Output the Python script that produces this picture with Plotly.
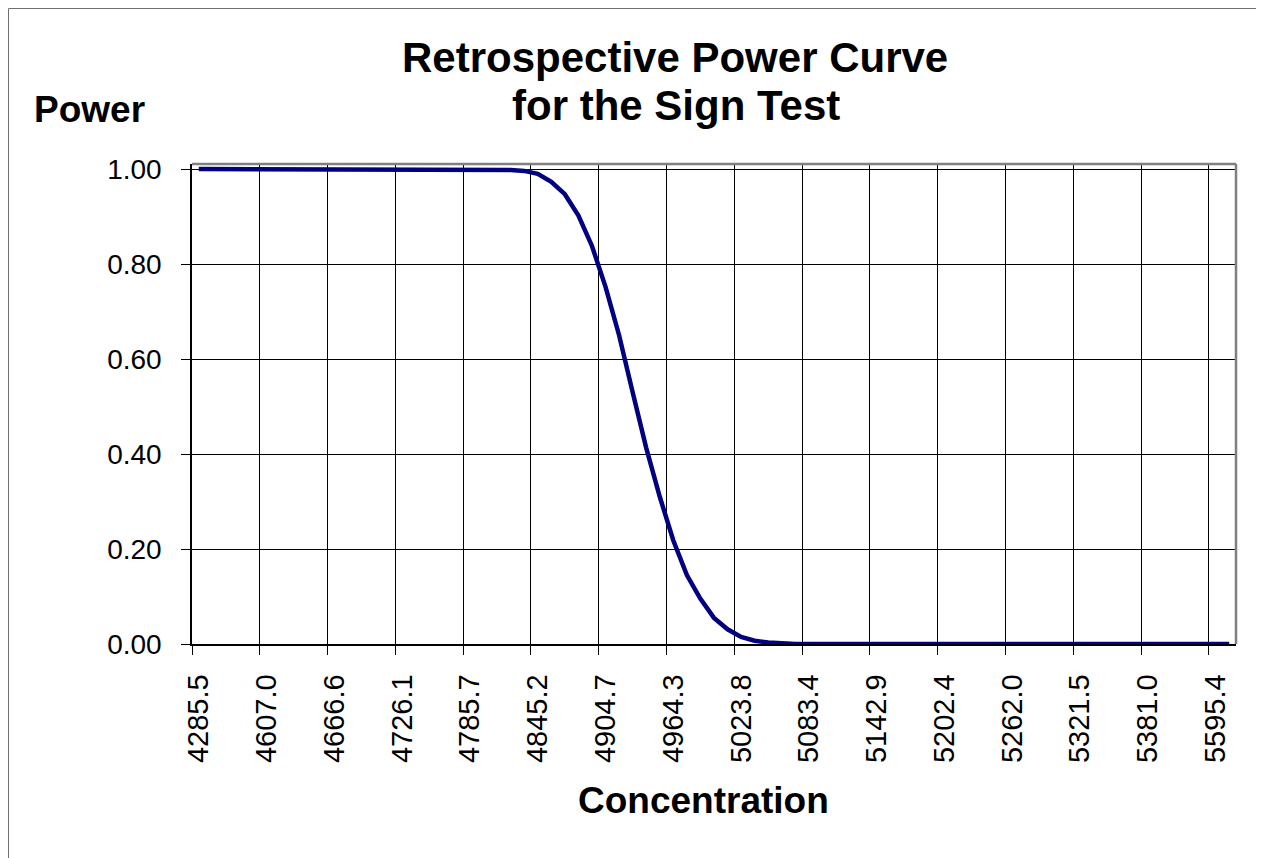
import plotly.graph_objects as go

# ---- data ----
tick_labels = ["4285.5", "4607.0", "4666.6", "4726.1", "4785.7", "4845.2",
               "4904.7", "4964.3", "5023.8", "5083.4", "5142.9", "5202.4",
               "5262.0", "5321.5", "5381.0", "5595.4"]
label_interval = 5  # one label every 5 categories

power = [
    1.000, 1.000, 1.000, 1.000, 1.000, 1.000, 1.000, 1.000, 1.000, 1.000,
    1.000, 1.000, 1.000, 1.000, 1.000, 1.000, 1.000, 1.000, 1.000, 1.000,
    1.000, 1.000, 0.999, 0.998, 0.996, 0.990, 0.973, 0.947, 0.902, 0.838,
    0.752, 0.650, 0.530, 0.413, 0.310, 0.218, 0.145, 0.095, 0.055, 0.031,
    0.015, 0.007, 0.003, 0.001, 0.000, 0.000, 0.000, 0.000, 0.000, 0.000,
    0.000, 0.000, 0.000, 0.000, 0.000, 0.000, 0.000, 0.000, 0.000, 0.000,
    0.000, 0.000, 0.000, 0.000, 0.000, 0.000, 0.000, 0.000, 0.000, 0.000,
    0.000, 0.000, 0.000, 0.000, 0.000, 0.000, 0.000,
]
y_ticks = [0.0, 0.2, 0.4, 0.6, 0.8, 1.0]

n = len(power)
cat_index = list(range(n))
label_pos = [i * label_interval for i in range(len(tick_labels))]
boundary_pos = [p - 0.5 for p in label_pos]

FONT = "Liberation Sans, Arial, sans-serif"

# page layout (the page body adds an 8 px offset)
OFF = 8
W, H = 1264 - OFF, 858 - OFF
L, R, T, B = 192, 1236, 164, 644          # plot area in page pixels
pw, ph = R - L, B - T


def px(x):
    return (x - L) / pw


def py(y):
    return (B - y) / ph


fig = go.Figure()
fig.add_trace(go.Scatter(
    x=cat_index, y=power, mode="lines",
    line=dict(color="#000080", width=4.5),
    hoverinfo="skip", showlegend=False,
))

fig.update_layout(
    width=W, height=H,
    margin=dict(l=L - OFF, r=(W + OFF) - R, t=T - OFF, b=(H + OFF) - B, pad=0),
    paper_bgcolor="white", plot_bgcolor="white",
    showlegend=False,
    font=dict(family=FONT, color="black"),
    xaxis=dict(
        range=[-0.5, n - 0.5],
        tickmode="array", tickvals=label_pos, ticktext=tick_labels,
        tickangle=-90, tickfont=dict(size=29, family=FONT, color="black"),
        ticks="", showgrid=False, zeroline=False,
        showline=True, linecolor="black", linewidth=1.5,
        ticklabelstandoff=17,
        minor=dict(tickmode="array", tickvals=boundary_pos, ticks="outside",
                   ticklen=9, tickwidth=1, tickcolor="black",
                   showgrid=True, gridcolor="black", gridwidth=1),
    ),
    yaxis=dict(
        range=[0, (B - T) / 475.0],
        tickmode="array", tickvals=y_ticks,
        ticktext=[f"{v:.2f}" for v in y_ticks],
        tickfont=dict(size=28, family=FONT, color="black"),
        ticks="outside", ticklen=9, tickwidth=1, tickcolor="black",
        showgrid=True, gridcolor="black", gridwidth=1,
        zeroline=False, showline=True, linecolor="black", linewidth=1.5,
        ticklabelstandoff=14,
    ),
)

# plot-area border (top and right, grey)
fig.add_shape(type="line", xref="paper", yref="paper", x0=0, x1=1, y0=1, y1=1,
              line=dict(color="#808080", width=2.5), layer="above")
fig.add_shape(type="line", xref="paper", yref="paper", x0=1, x1=1, y0=0, y1=1,
              line=dict(color="#808080", width=2.5), layer="above")
# outer chart border: only the left and top edges are inside the picture
fig.add_shape(type="line", xref="paper", yref="paper",
              x0=px(8.5), x1=px(1290), y0=py(8.5), y1=py(8.5),
              line=dict(color="#707070", width=1), layer="above")
fig.add_shape(type="line", xref="paper", yref="paper",
              x0=px(8.5), x1=px(8.5), y0=py(8.5), y1=py(900),
              line=dict(color="#707070", width=1), layer="above")

# titles
fig.add_annotation(text="<b>Retrospective Power Curve</b>", xref="paper", yref="paper",
                   x=px(675), y=py(57), xanchor="center", yanchor="middle",
                   showarrow=False, font=dict(size=42, family=FONT, color="black"))
fig.add_annotation(text="<b>for the Sign Test</b>", xref="paper", yref="paper",
                   x=px(676), y=py(105), xanchor="center", yanchor="middle",
                   showarrow=False, font=dict(size=42, family=FONT, color="black"))
fig.add_annotation(text="<b>Power</b>", xref="paper", yref="paper",
                   x=px(32), y=py(109), xanchor="left", yanchor="middle",
                   showarrow=False, font=dict(size=37, family=FONT, color="black"))
fig.add_annotation(text="<b>Concentration</b>", xref="paper", yref="paper",
                   x=px(703), y=py(800), xanchor="center", yanchor="middle",
                   showarrow=False, font=dict(size=37, family=FONT, color="black"))

fig.write_html("out.html")
